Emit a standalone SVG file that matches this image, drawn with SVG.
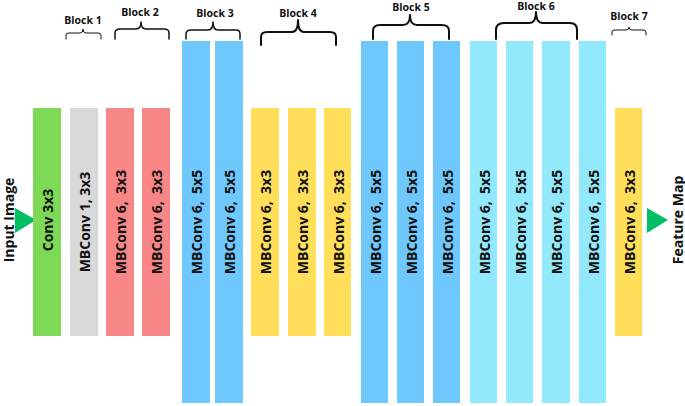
<svg xmlns="http://www.w3.org/2000/svg" width="685" height="406" viewBox="0 0 685 406">
<style>
.t{font-family:"Open Sans","Liberation Sans",sans-serif;font-weight:700;font-size:14px;fill:#111;text-anchor:middle;dominant-baseline:central;white-space:pre}
.b{font-family:"Open Sans","Liberation Sans",sans-serif;font-weight:700;font-size:10.5px;fill:#111;text-anchor:middle}
.br{fill:none;stroke:#111;stroke-width:1.8;stroke-linejoin:round;stroke-linecap:round}
.g{fill:#7ed957}.gr{fill:#d9d9d9}.r{fill:#f98686}.bl{fill:#6ec8fd}.y{fill:#ffde59}.c{fill:#92e9fc}
.tri{fill:#00bf63}
</style>
<rect width="685" height="406" fill="#fff"/>
<g id="input"><polygon class="tri" points="15,208 36,220 15,233"/><text class="t" transform="translate(8,220) rotate(-90)">Input Image</text></g>
<g id="output"><polygon class="tri" points="647,208 668,220 647,233"/><text class="t" transform="translate(677,220) rotate(-90)">Feature Map</text></g>
<g id="n0"><rect class="g" x="33" y="108" width="28" height="228"/><text class="t" transform="translate(47,220) rotate(-90)">Conv 3x3</text></g>
<g id="n1"><rect class="gr" x="70" y="108" width="28" height="228"/><text class="t" transform="translate(84,222) rotate(-90)">MBConv 1, 3x3</text></g>
<g id="n2"><rect class="r" x="106" y="108" width="28" height="228"/><text class="t" transform="translate(120,222) rotate(-90)">MBConv 6,  3x3</text></g>
<g id="n3"><rect class="r" x="142" y="108" width="28" height="228"/><text class="t" transform="translate(156,222) rotate(-90)">MBConv 6,  3x3</text></g>
<g id="n4"><rect class="bl" x="182" y="41" width="28" height="362"/><text class="t" transform="translate(196,222) rotate(-90)">MBConv 6,  5x5</text></g>
<g id="n5"><rect class="bl" x="215" y="41" width="28" height="362"/><text class="t" transform="translate(229,222) rotate(-90)">MBConv 6,  5x5</text></g>
<g id="n6"><rect class="y" x="251" y="108" width="28" height="228"/><text class="t" transform="translate(265,222) rotate(-90)">MBConv 6,  3x3</text></g>
<g id="n7"><rect class="y" x="288" y="108" width="28" height="228"/><text class="t" transform="translate(302,222) rotate(-90)">MBConv 6,  3x3</text></g>
<g id="n8"><rect class="y" x="324" y="108" width="27" height="228"/><text class="t" transform="translate(338,222) rotate(-90)">MBConv 6,  3x3</text></g>
<g id="n9"><rect class="bl" x="361" y="41" width="27" height="362"/><text class="t" transform="translate(375,222) rotate(-90)">MBConv 6,  5x5</text></g>
<g id="n10"><rect class="bl" x="397" y="41" width="27" height="362"/><text class="t" transform="translate(411,222) rotate(-90)">MBConv 6,  5x5</text></g>
<g id="n11"><rect class="bl" x="433" y="41" width="27" height="362"/><text class="t" transform="translate(447,222) rotate(-90)">MBConv 6,  5x5</text></g>
<g id="n12"><rect class="c" x="470" y="41" width="27" height="362"/><text class="t" transform="translate(484,222) rotate(-90)">MBConv 6,  5x5</text></g>
<g id="n13"><rect class="c" x="506" y="41" width="27" height="362"/><text class="t" transform="translate(520,222) rotate(-90)">MBConv 6,  5x5</text></g>
<g id="n14"><rect class="c" x="542" y="41" width="28" height="362"/><text class="t" transform="translate(556,222) rotate(-90)">MBConv 6,  5x5</text></g>
<g id="n15"><rect class="c" x="579" y="41" width="27" height="362"/><text class="t" transform="translate(593,222) rotate(-90)">MBConv 6,  5x5</text></g>
<g id="n16"><rect class="y" x="615" y="108" width="27" height="228"/><text class="t" transform="translate(629,222) rotate(-90)">MBConv 6,  3x3</text></g>
<g id="braces">
<path class="br" style="stroke-width:1" d="M66,39 V35 Q66,33 69,33 H80 Q83,33 83,29 Q83,33 86,33 H98 Q101,33 101,35 V39"/>
<text class="b" x="83" y="24">Block 1</text>
<path class="br" style="stroke-width:1.5" d="M115,39 V33 Q115,29 120,29 H136 Q141,29 141,22 Q141,29 146,29 H164 Q169,29 169,33 V39"/>
<text class="b" x="140" y="16">Block 2</text>
<path class="br" style="stroke-width:1.5" d="M186,39 V34 Q186,30 191,30 H208 Q213,30 213,22 Q213,30 218,30 H236 Q240,30 240,34 V39"/>
<text class="b" x="215" y="17">Block 3</text>
<path class="br" style="stroke-width:2" d="M261,45 V37 Q261,32 267,32 H292 Q298,32 298,20 Q298,32 304,32 H330 Q336,32 336,37 V45"/>
<text class="b" x="298" y="17">Block 4</text>
<path class="br" style="stroke-width:2" d="M373,39 V31 Q373,25 380,25 H403 Q410,25 410,15 Q410,25 417,25 H442 Q449,25 449,31 V39"/>
<text class="b" x="411" y="11">Block 5</text>
<path class="br" style="stroke-width:2" d="M496,39 V30 Q496,23 504,23 H529 Q536,23 536,12 Q536,23 543,23 H570 Q577,23 577,30 V39"/>
<text class="b" x="536" y="10">Block 6</text>
<path class="br" style="stroke-width:1" d="M612,35 V32 Q612,30 615,30 H626 Q629,30 629,27 Q629,30 632,30 H643 Q646,30 646,32 V35"/>
<text class="b" x="629" y="20">Block 7</text>
</g>
</svg>
